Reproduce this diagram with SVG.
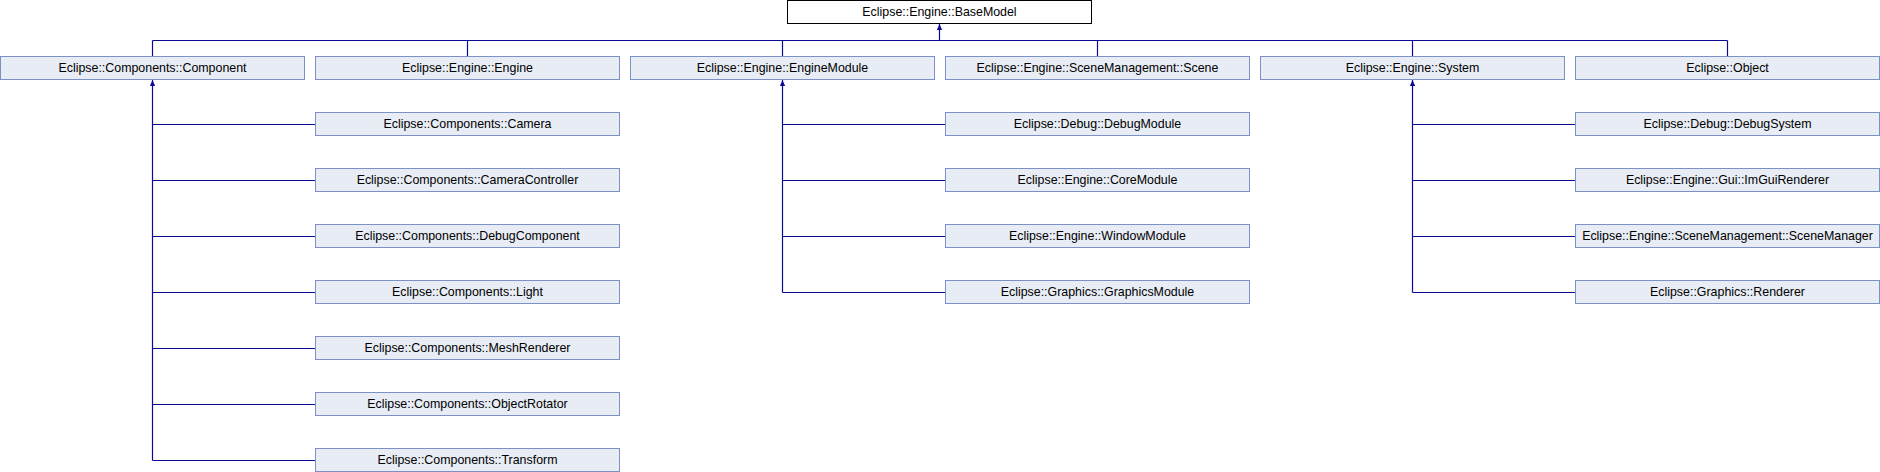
<svg xmlns="http://www.w3.org/2000/svg" width="1880" height="472" viewBox="0 0 1880 472">
<style>
rect.n{fill:#E8ECF5;stroke:#7C92C6;stroke-width:1}
rect.base{fill:#FFFFFF;stroke:#000000;stroke-width:1}
text{font-family:"Liberation Sans",Arial,sans-serif;font-size:12.4px;fill:#000000;text-anchor:middle}
.c line,.c path{stroke:#0A0A96;stroke-width:1.2;fill:none}
</style>
<defs>
<marker id="arr" markerUnits="userSpaceOnUse" markerWidth="6" markerHeight="6" viewBox="0 0 6 6" refX="6" refY="3" orient="auto-start-reverse">
<path d="M0,0.4 L6,3 L0,5.6 z" fill="#0A0A96"/>
</marker>
</defs>
<rect width="1880" height="472" fill="#FFFFFF"/>
<g id="connectors" class="c">
<line x1="939.5" y1="24" x2="939.5" y2="40.5" marker-start="url(#arr)"/>
<line x1="152.5" y1="40.5" x2="1727.5" y2="40.5"/>
<line x1="152.5" y1="40.5" x2="152.5" y2="56.5"/>
<line x1="467.5" y1="40.5" x2="467.5" y2="56.5"/>
<line x1="782.5" y1="40.5" x2="782.5" y2="56.5"/>
<line x1="1097.5" y1="40.5" x2="1097.5" y2="56.5"/>
<line x1="1412.5" y1="40.5" x2="1412.5" y2="56.5"/>
<line x1="1727.5" y1="40.5" x2="1727.5" y2="56.5"/>
<line x1="152.5" y1="80" x2="152.5" y2="460.5" marker-start="url(#arr)"/>
<line x1="152.5" y1="124.5" x2="315.5" y2="124.5"/>
<line x1="152.5" y1="180.5" x2="315.5" y2="180.5"/>
<line x1="152.5" y1="236.5" x2="315.5" y2="236.5"/>
<line x1="152.5" y1="292.5" x2="315.5" y2="292.5"/>
<line x1="152.5" y1="348.5" x2="315.5" y2="348.5"/>
<line x1="152.5" y1="404.5" x2="315.5" y2="404.5"/>
<line x1="152.5" y1="460.5" x2="315.5" y2="460.5"/>
<line x1="782.5" y1="80" x2="782.5" y2="292.5" marker-start="url(#arr)"/>
<line x1="782.5" y1="124.5" x2="945.5" y2="124.5"/>
<line x1="782.5" y1="180.5" x2="945.5" y2="180.5"/>
<line x1="782.5" y1="236.5" x2="945.5" y2="236.5"/>
<line x1="782.5" y1="292.5" x2="945.5" y2="292.5"/>
<line x1="1412.5" y1="80" x2="1412.5" y2="292.5" marker-start="url(#arr)"/>
<line x1="1412.5" y1="124.5" x2="1575.5" y2="124.5"/>
<line x1="1412.5" y1="180.5" x2="1575.5" y2="180.5"/>
<line x1="1412.5" y1="236.5" x2="1575.5" y2="236.5"/>
<line x1="1412.5" y1="292.5" x2="1575.5" y2="292.5"/>
</g>
<g id="BaseModel"><rect class="base" x="787.5" y="0.5" width="304" height="23"/><text x="939.5" y="16">Eclipse::Engine::BaseModel</text></g>
<g id="Component"><rect class="n" x="0.5" y="56.5" width="304" height="23"/><text x="152.5" y="72">Eclipse::Components::Component</text></g>
<g id="Engine"><rect class="n" x="315.5" y="56.5" width="304" height="23"/><text x="467.5" y="72">Eclipse::Engine::Engine</text></g>
<g id="EngineModule"><rect class="n" x="630.5" y="56.5" width="304" height="23"/><text x="782.5" y="72">Eclipse::Engine::EngineModule</text></g>
<g id="Scene"><rect class="n" x="945.5" y="56.5" width="304" height="23"/><text x="1097.5" y="72">Eclipse::Engine::SceneManagement::Scene</text></g>
<g id="System"><rect class="n" x="1260.5" y="56.5" width="304" height="23"/><text x="1412.5" y="72">Eclipse::Engine::System</text></g>
<g id="Object"><rect class="n" x="1575.5" y="56.5" width="304" height="23"/><text x="1727.5" y="72">Eclipse::Object</text></g>
<g id="Camera"><rect class="n" x="315.5" y="112.5" width="304" height="23"/><text x="467.5" y="128">Eclipse::Components::Camera</text></g>
<g id="CameraController"><rect class="n" x="315.5" y="168.5" width="304" height="23"/><text x="467.5" y="184">Eclipse::Components::CameraController</text></g>
<g id="DebugComponent"><rect class="n" x="315.5" y="224.5" width="304" height="23"/><text x="467.5" y="240">Eclipse::Components::DebugComponent</text></g>
<g id="Light"><rect class="n" x="315.5" y="280.5" width="304" height="23"/><text x="467.5" y="296">Eclipse::Components::Light</text></g>
<g id="MeshRenderer"><rect class="n" x="315.5" y="336.5" width="304" height="23"/><text x="467.5" y="352">Eclipse::Components::MeshRenderer</text></g>
<g id="ObjectRotator"><rect class="n" x="315.5" y="392.5" width="304" height="23"/><text x="467.5" y="408">Eclipse::Components::ObjectRotator</text></g>
<g id="Transform"><rect class="n" x="315.5" y="448.5" width="304" height="23"/><text x="467.5" y="464">Eclipse::Components::Transform</text></g>
<g id="DebugModule"><rect class="n" x="945.5" y="112.5" width="304" height="23"/><text x="1097.5" y="128">Eclipse::Debug::DebugModule</text></g>
<g id="CoreModule"><rect class="n" x="945.5" y="168.5" width="304" height="23"/><text x="1097.5" y="184">Eclipse::Engine::CoreModule</text></g>
<g id="WindowModule"><rect class="n" x="945.5" y="224.5" width="304" height="23"/><text x="1097.5" y="240">Eclipse::Engine::WindowModule</text></g>
<g id="GraphicsModule"><rect class="n" x="945.5" y="280.5" width="304" height="23"/><text x="1097.5" y="296">Eclipse::Graphics::GraphicsModule</text></g>
<g id="DebugSystem"><rect class="n" x="1575.5" y="112.5" width="304" height="23"/><text x="1727.5" y="128">Eclipse::Debug::DebugSystem</text></g>
<g id="ImGuiRenderer"><rect class="n" x="1575.5" y="168.5" width="304" height="23"/><text x="1727.5" y="184">Eclipse::Engine::Gui::ImGuiRenderer</text></g>
<g id="SceneManager"><rect class="n" x="1575.5" y="224.5" width="304" height="23"/><text x="1727.5" y="240">Eclipse::Engine::SceneManagement::SceneManager</text></g>
<g id="Renderer"><rect class="n" x="1575.5" y="280.5" width="304" height="23"/><text x="1727.5" y="296">Eclipse::Graphics::Renderer</text></g>
</svg>
